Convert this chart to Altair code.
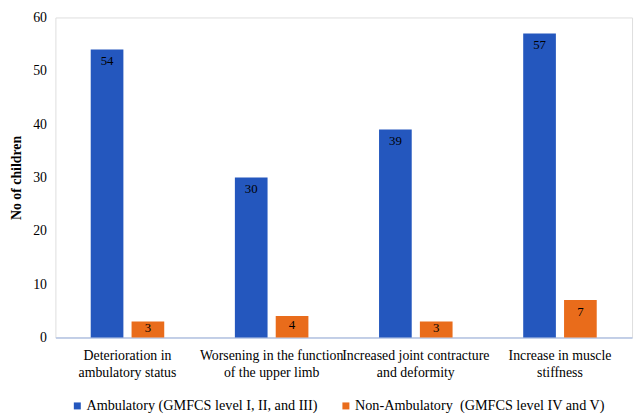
import altair as alt
import pandas as pd

categories = [
    "Deterioration in ambulatory status",
    "Worsening in the function of the upper limb",
    "Increased joint contracture and deformity",
    "Increase in muscle stiffness",
]
label_lines = [
    ["Deterioration in", "ambulatory status"],
    ["Worsening in the function", "of the upper limb"],
    ["Increased joint contracture", "and deformity"],
    ["Increase in muscle", "stiffness"],
]
series = [
    "Ambulatory (GMFCS level I, II, and III)",
    "Non-Ambulatory  (GMFCS level IV and V)",
]
ambulatory = [54, 30, 39, 57]
non_ambulatory = [3, 4, 3, 7]
colors = ["#2457BE", "#E96C1B"]

rows = []
for c, a, n in zip(categories, ambulatory, non_ambulatory):
    rows.append({"cat": c, "group": series[0], "value": a})
    rows.append({"cat": c, "group": series[1], "value": n})
df = pd.DataFrame(rows)

label_map = {c: l for c, l in zip(categories, label_lines)}
expr_parts = " : ".join(
    f"datum.label == '{c}' ? ['{l[0]}', '{l[1]}']" for c, l in label_map.items()
)
label_expr = expr_parts + " : datum.label"

FONT = "Liberation Serif, Times New Roman, serif"

x = alt.X(
    "cat:N",
    sort=categories,
    title=None,
    scale=alt.Scale(paddingInner=0.49, paddingOuter=0.245),
    axis=alt.Axis(
        labelAngle=0,
        labelExpr=label_expr,
        labelFont=FONT,
        labelFontSize=14,
        labelColor="#000000",
        labelLineHeight=18,
        labelPadding=11,
        ticks=False,
        domainColor="#B4C5E4",
        domainWidth=1.5,
        labelLimit=300,
    ),
)
xoff = alt.XOffset("group:N", sort=series, scale=alt.Scale(paddingInner=0.2))
yscale = alt.Scale(domain=[0, 60])
y = alt.Y(
    "value:Q",
    scale=yscale,
    axis=alt.Axis(
        values=[0, 10, 20, 30, 40, 50, 60],
        grid=False,
        ticks=False,
        domain=False,
        labelFont=FONT,
        labelFontSize=14,
        labelColor="#000000",
        labelPadding=9,
        title="No of children",
        titleFont=FONT,
        titleFontSize=14,
        titleFontWeight="bold",
        titleColor="#000000",
        titlePadding=9,
    ),
)
color = alt.Color(
    "group:N",
    sort=series,
    scale=alt.Scale(domain=series, range=colors),
    legend=alt.Legend(
        title=None,
        orient="none",
        legendX=15,
        legendY=386,
        direction="horizontal",
        symbolType="square",
        symbolSize=50,
        symbolStrokeWidth=0,
        labelFont=FONT,
        labelFontSize=14.4,
        labelColor="#000000",
        labelOffset=2,
        columnPadding=21,
        labelLimit=400,
        labelExpr="replace(datum.label, '  ', '\u00a0 ')",
    ),
)

bars = alt.Chart(df).mark_bar().encode(x=x, xOffset=xoff, y=y, color=color)
# labels sit "inside end": near the top of each bar, lower for short bars
text = (
    alt.Chart(df)
    .transform_calculate(lpos="datum.value - min(2.2, datum.value * 0.4)")
    .mark_text(baseline="middle", font=FONT, fontSize=13, color="#000000")
    .encode(
        x=x,
        xOffset=xoff,
        y=alt.Y("lpos:Q", scale=yscale),
        text="value:Q",
    )
)

chart = (
    (bars + text)
    .properties(
        width=584,
        height=324,
        autosize=alt.AutoSizeParams(type="none"),
        padding={"left": 48, "top": 7, "right": 4, "bottom": 78},
    )
    .configure_view(stroke="#E3E8F2", strokeWidth=1.5)
    .configure(background="#ffffff")
)

chart.save("out.html", embed_options={"renderer": "svg", "actions": False})
